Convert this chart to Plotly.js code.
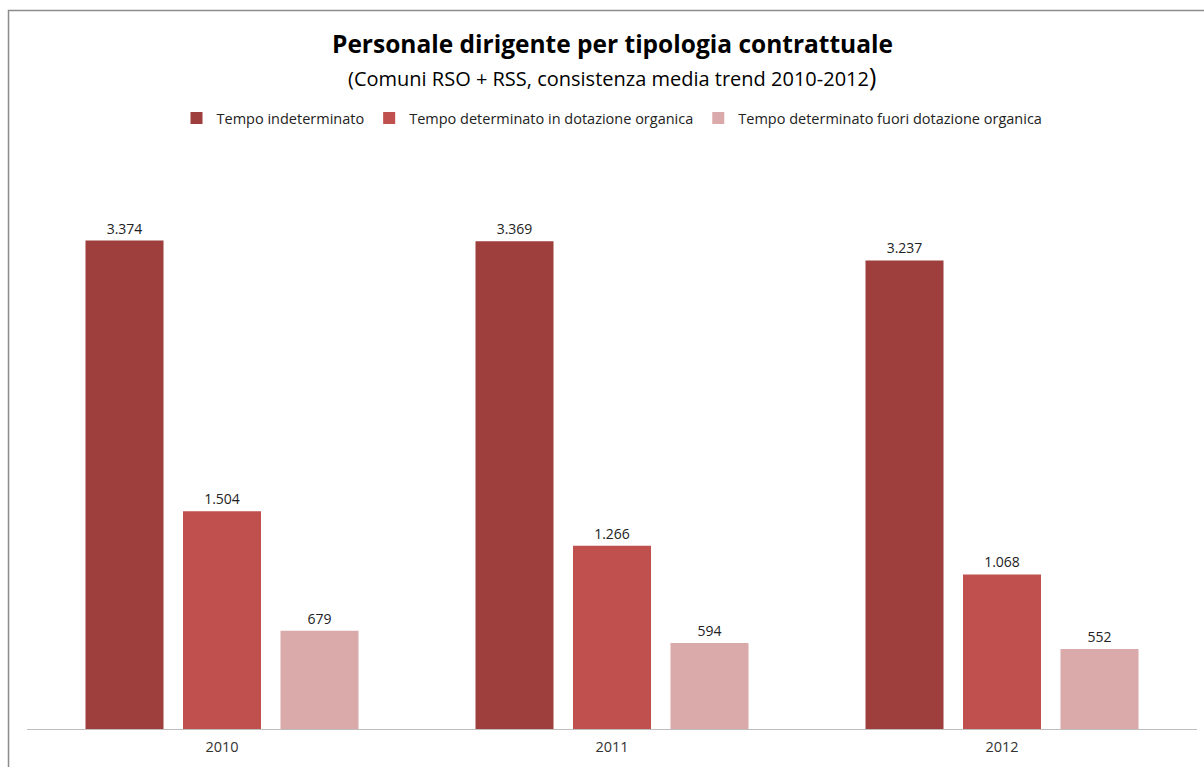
<!DOCTYPE html>
<html><head><meta charset="utf-8">
<script src="https://cdn.plot.ly/plotly-3.0.1.min.js"></script>
<style>html,body{margin:0;padding:0;background:#fff}#chart{width:1204px;height:767px}</style>
</head><body><div id="chart"></div>
<script>
const categories = ['2010', '2011', '2012'];
const seriesNames = ['Tempo indeterminato', 'Tempo determinato in dotazione organica', 'Tempo determinato fuori dotazione organica'];
const tempoIndeterminato = [3374, 3369, 3237];
const tempoDetInDotazione = [1504, 1266, 1068];
const tempoDetFuoriDotazione = [679, 594, 552];
const titleText = 'Personale dirigente per tipologia contrattuale';
const subtitleText = '(Comuni RSO + RSS, consistenza media trend 2010-2012';
const colors = ['#9E3F3D', '#C0504D', '#DAA9A9'];
const values = [tempoIndeterminato, tempoDetInDotazione, tempoDetFuoriDotazione];

const traces = values.map((v, i) => ({
  type: 'bar', x: categories, y: v, name: seriesNames[i],
  marker: {color: colors[i]},
  texttemplate: '%{y:,.0f}', textposition: 'outside',
  textfont: {family: 'Open Sans, sans-serif', size: 14, color: '#222'},
  cliponaxis: false, hoverinfo: 'skip'
}));

const layout = {
  width: 1204, height: 767,
  margin: {l: 27, r: 7, t: 150, b: 38},
  separators: ',.',
  paper_bgcolor: '#fff', plot_bgcolor: '#fff',
  barmode: 'group', bargap: 0.25, bargroupgap: 0.2,
  font: {family: 'Open Sans, sans-serif', color: '#222'},
  showlegend: true,
  legend: {orientation: 'h', x: 0.5, xanchor: 'center', xref: 'paper', y: 1.055, yanchor: 'middle',
    font: {family: 'Open Sans, sans-serif', size: 14.5, color: '#222'}, traceorder: 'normal', itemwidth: 30},
  xaxis: {showgrid: false, zeroline: false, showline: true, linecolor: '#bdbdbd', linewidth: 1,
    ticks: '', ticklabelstandoff: 5, tickfont: {size: 14.5, color: '#333'}, fixedrange: true},
  yaxis: {range: [0, 4000], visible: false, showgrid: false, zeroline: false, fixedrange: true},
  annotations: [
    {text: '<b>' + titleText + '</b>', xref: 'paper', yref: 'paper', x: (612 - 27) / 1170, y: (729 - 44) / 579,
      xanchor: 'center', yanchor: 'middle', showarrow: false,
      font: {family: 'Open Sans, sans-serif', size: 24.5, color: '#000'}},
    {text: subtitleText + '<span style="font-size:25px">)</span>', xref: 'paper', yref: 'paper', x: (612 - 27) / 1170, y: (729 - 76) / 579,
      xanchor: 'center', yanchor: 'middle', showarrow: false,
      font: {family: 'Open Sans, sans-serif', size: 20, color: '#000'}}
  ],
  shapes: [{type: 'rect', xref: 'paper', yref: 'paper', x0: -0.0158, x1: 1.02, y0: -0.2, y1: 1.2409,
    line: {color: '#8c8c8c', width: 1.5}, fillcolor: 'rgba(0,0,0,0)', layer: 'above'}]
};
Plotly.newPlot('chart', traces, layout, {displayModeBar: false, staticPlot: true});
</script></body></html>
